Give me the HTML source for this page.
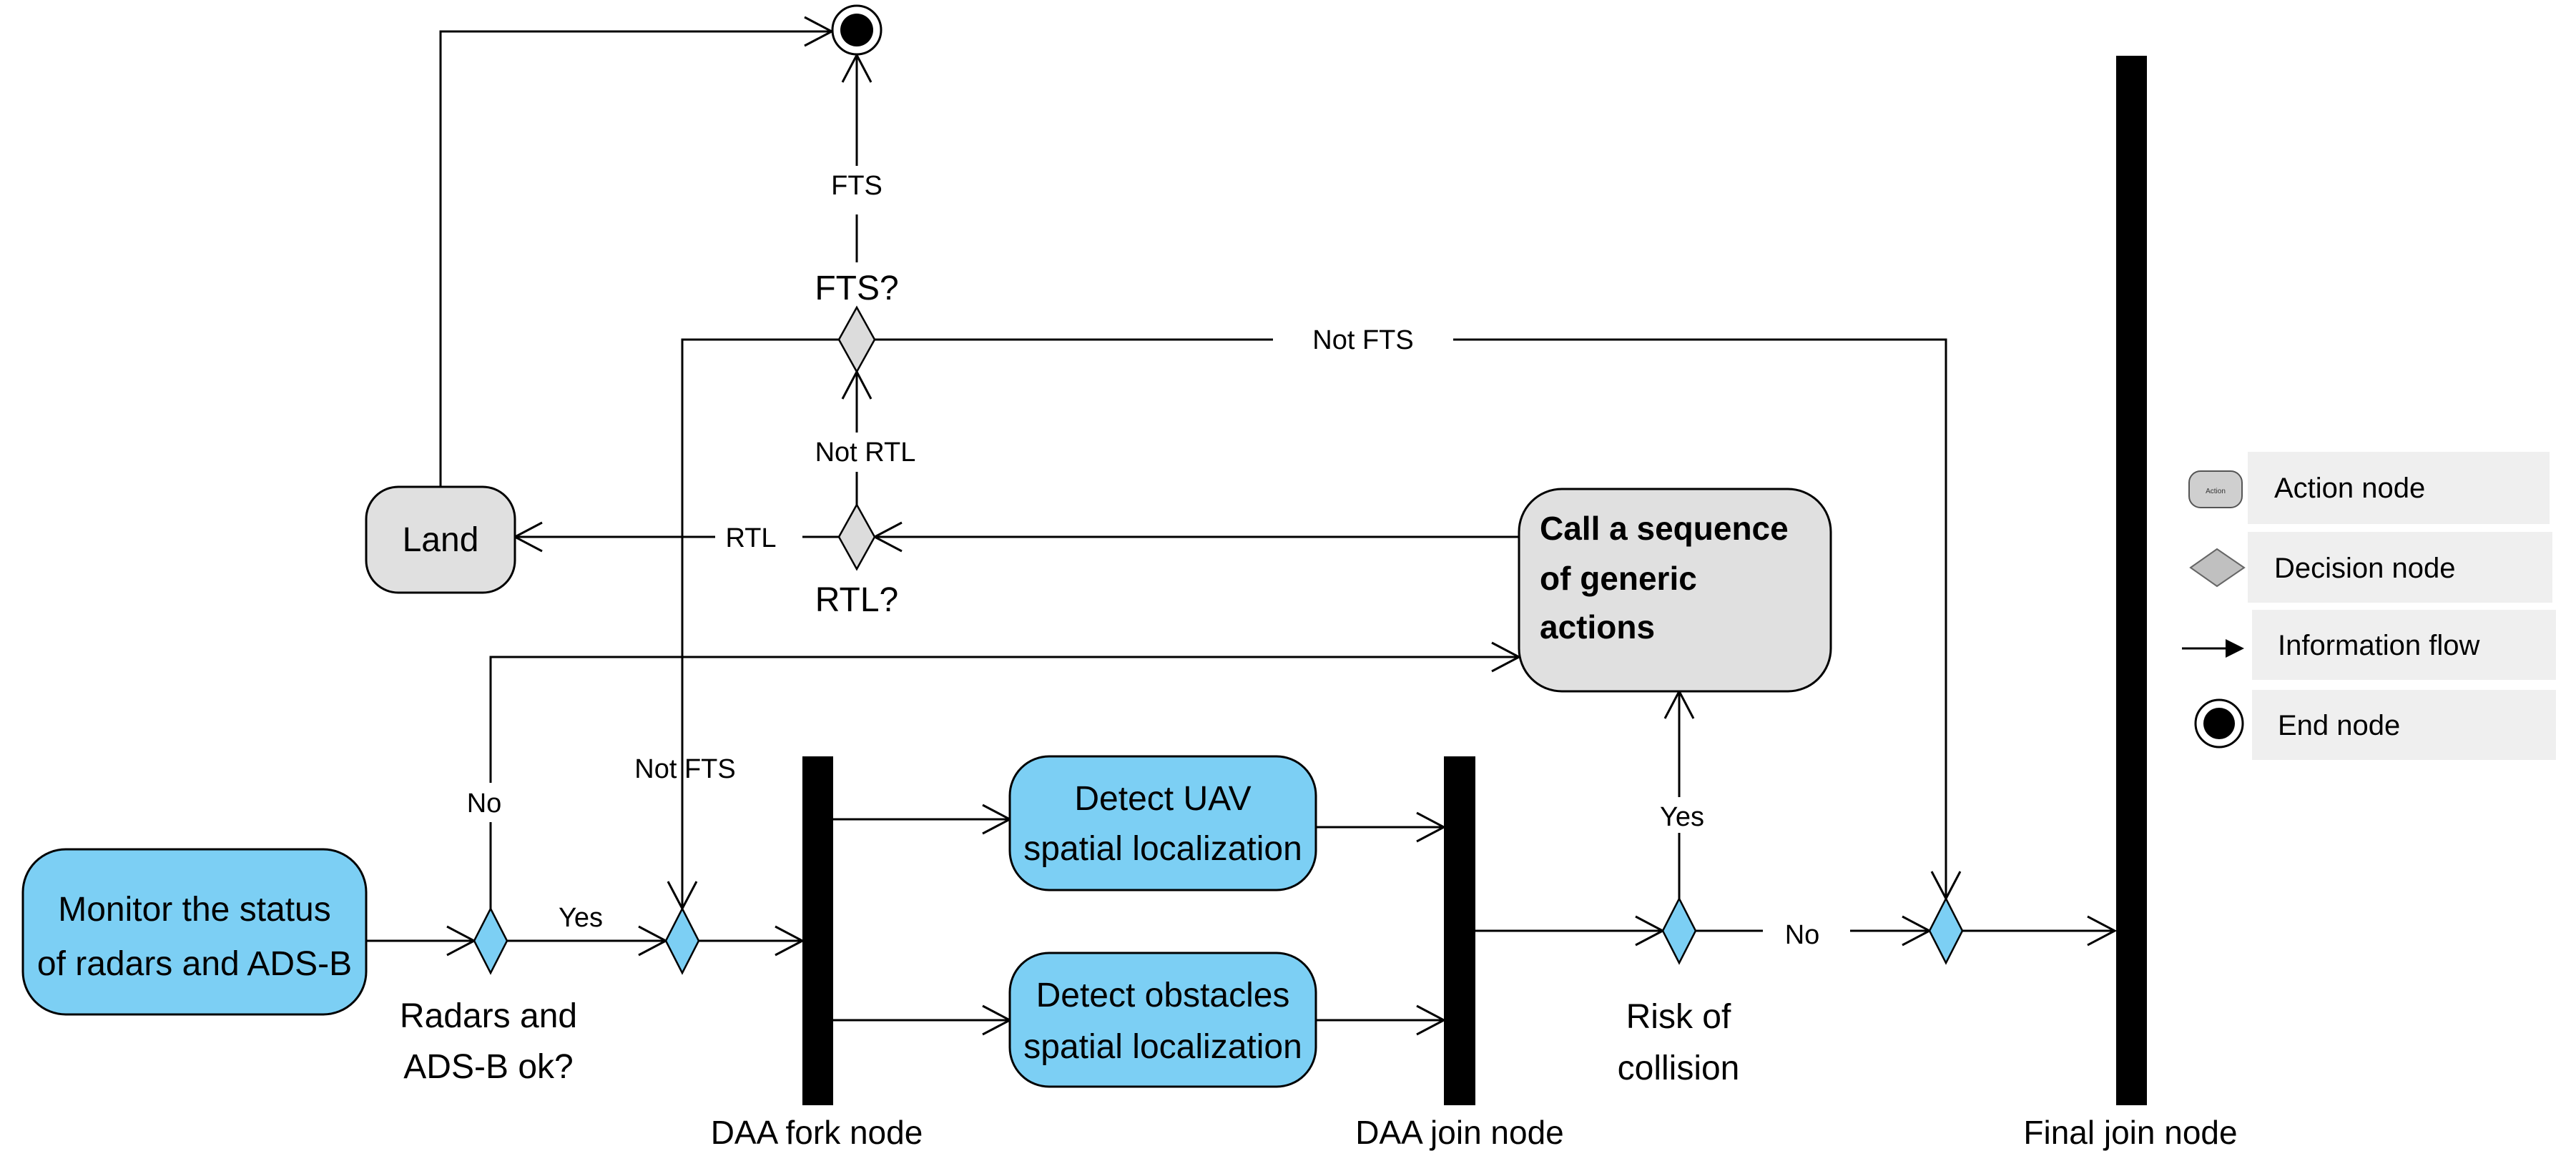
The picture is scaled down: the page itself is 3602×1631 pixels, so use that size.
<!DOCTYPE html>
<html><head><meta charset="utf-8"><style>
html,body{margin:0;padding:0;background:#fff;}
svg{display:block;font-family:"Liberation Sans",Arial,sans-serif;}
</style></head><body>
<svg width="3602" height="1631" viewBox="0 0 3602 1631" xmlns="http://www.w3.org/2000/svg">
<defs>
<marker id="a" markerWidth="44" markerHeight="44" refX="40" refY="22" orient="auto" markerUnits="userSpaceOnUse">
<path d="M2,2 L40,22 L2,42" fill="none" stroke="#000" stroke-width="3"/>
</marker>
</defs>
<g stroke="#000" stroke-width="3" fill="none">
<path d="M616,681 V44 H1163" marker-end="url(#a)"/>
<path d="M1198,367 V300"/>
<path d="M1198,232 V77" marker-end="url(#a)"/>
<path d="M1173,475 H954 V1271" marker-end="url(#a)"/>
<path d="M1223,475 H1780"/>
<path d="M2032,475 H2721 V1257" marker-end="url(#a)"/>
<path d="M1198,706 V660"/>
<path d="M1198,605 V520" marker-end="url(#a)"/>
<path d="M1175,751 H1122"/>
<path d="M1000,751 H720" marker-end="url(#a)"/>
<path d="M2124,751 H1223" marker-end="url(#a)"/>
<path d="M686,1271 V1150"/>
<path d="M686,1095 V919 H2124" marker-end="url(#a)"/>
<path d="M512,1316 H663" marker-end="url(#a)"/>
<path d="M709,1316 H931" marker-end="url(#a)"/>
<path d="M977,1316 H1122" marker-end="url(#a)"/>
<path d="M1165,1146 H1412" marker-end="url(#a)"/>
<path d="M1165,1427 H1412" marker-end="url(#a)"/>
<path d="M1840,1157 H2019" marker-end="url(#a)"/>
<path d="M1840,1427 H2019" marker-end="url(#a)"/>
<path d="M2063,1302 H2325" marker-end="url(#a)"/>
<path d="M2348,1257 V1165"/>
<path d="M2348,1115 V967" marker-end="url(#a)"/>
<path d="M2371,1302 H2465"/>
<path d="M2587,1302 H2698" marker-end="url(#a)"/>
<path d="M2744,1302 H2957" marker-end="url(#a)"/>
</g>
<circle cx="1198" cy="42" r="34" fill="#fff" stroke="#000" stroke-width="3"/>
<circle cx="1198" cy="42" r="23" fill="#000"/>
<g stroke="#000" stroke-width="2.5">
<path d="M1198,430 L1223,475 L1198,520 L1173,475 Z" fill="#dcdcdc"/>
<path d="M1198,706 L1223,751 L1198,796 L1173,751 Z" fill="#dcdcdc"/>
<path d="M686,1271 L709,1316 L686,1361 L663,1316 Z" fill="#7ccff4"/>
<path d="M954,1271 L977,1316 L954,1361 L931,1316 Z" fill="#7ccff4"/>
<path d="M2348,1257 L2371,1302 L2348,1347 L2325,1302 Z" fill="#7ccff4"/>
<path d="M2721,1257 L2744,1302 L2721,1347 L2698,1302 Z" fill="#7ccff4"/>
</g>
<g stroke="#000" stroke-width="3">
<rect x="512" y="681" width="208" height="148" rx="45" fill="#e0e0e0"/>
<rect x="2124" y="684" width="436" height="283" rx="60" fill="#e0e0e0"/>
<rect x="32" y="1188" width="480" height="231" rx="60" fill="#7ccff4"/>
<rect x="1412" y="1058" width="428" height="187" rx="55" fill="#7ccff4"/>
<rect x="1412" y="1333" width="428" height="187" rx="55" fill="#7ccff4"/>
</g>
<rect x="1122" y="1058" width="43" height="488" fill="#000"/>
<rect x="2019" y="1058" width="44" height="488" fill="#000"/>
<rect x="2959" y="78" width="43" height="1468" fill="#000"/>
<g fill="#000" text-anchor="middle">
<text x="1198" y="272" font-size="38">FTS</text>
<text x="1198" y="419" font-size="48">FTS?</text>
<text x="1210" y="645" font-size="38">Not RTL</text>
<text x="1050" y="765" font-size="38">RTL</text>
<text x="1198" y="855" font-size="48">RTL?</text>
<text x="616" y="771" font-size="48">Land</text>
<text x="1906" y="488" font-size="38">Not FTS</text>
<text x="958" y="1088" font-size="38">Not FTS</text>
<text x="677" y="1136" font-size="38">No</text>
<text x="812" y="1296" font-size="38">Yes</text>
<text x="272" y="1288" font-size="48">Monitor the status</text>
<text x="272" y="1364" font-size="48">of radars and ADS-B</text>
<text x="683" y="1437" font-size="48">Radars and</text>
<text x="683" y="1508" font-size="48">ADS-B ok?</text>
<text x="1626" y="1133" font-size="48">Detect UAV</text>
<text x="1626" y="1203" font-size="48">spatial localization</text>
<text x="1626" y="1408" font-size="48">Detect obstacles</text>
<text x="1626" y="1480" font-size="48">spatial localization</text>
<text x="1142" y="1600" font-size="46">DAA fork node</text>
<text x="2041" y="1600" font-size="46">DAA join node</text>
<text x="2979" y="1600" font-size="46">Final join node</text>
<text x="2352" y="1155" font-size="38">Yes</text>
<text x="2520" y="1320" font-size="38">No</text>
<text x="2347" y="1438" font-size="48">Risk of</text>
<text x="2347" y="1510" font-size="48">collision</text>
</g>
<g fill="#000" font-weight="bold" font-size="46">
<text x="2153" y="755">Call a sequence</text>
<text x="2153" y="825">of generic</text>
<text x="2153" y="893">actions</text>
</g>
<rect x="3143" y="632" width="422" height="101" fill="#efefef"/>
<rect x="3143" y="744" width="426" height="99" fill="#efefef"/>
<rect x="3149" y="853" width="425" height="98" fill="#efefef"/>
<rect x="3149" y="965" width="425" height="98" fill="#efefef"/>
<rect x="3061" y="659" width="74" height="51" rx="16" fill="#cfcfcf" stroke="#555" stroke-width="2"/>
<text x="3098" y="690" font-size="10" text-anchor="middle" fill="#333">Action</text>
<path d="M3063,794 L3100,768 L3138,794 L3100,820 Z" fill="#c0c0c0" stroke="#666" stroke-width="2"/>
<path d="M3051,907 H3115" stroke="#000" stroke-width="3"/>
<path d="M3112,894 L3138,907 L3112,920 Z" fill="#000"/>
<circle cx="3103" cy="1012" r="33" fill="#fff" stroke="#000" stroke-width="3"/>
<circle cx="3103" cy="1012" r="22" fill="#000"/>
<g fill="#000" font-size="40">
<text x="3180" y="696">Action node</text>
<text x="3180" y="808">Decision node</text>
<text x="3185" y="916">Information flow</text>
<text x="3185" y="1028">End node</text>
</g>
</svg>
</body></html>
